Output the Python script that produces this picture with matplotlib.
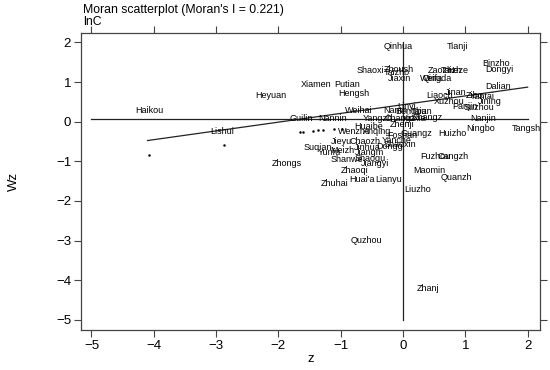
import matplotlib
matplotlib.use("Agg")
import matplotlib.pyplot as plt

plt.rcParams['font.family'] = ['Liberation Sans', 'DejaVu Sans']

# city labels with (z, Wz)
cities = ["Qinhua", "Tianji", "Binzho", "Dongyi", "Shaoxi", "Zhoush", "Taizho",
          "Zaozh", "Taizh", "Heze", "Jiaxin", "Weifa", "Qingda", "Xiamen", "Putian",
          "Heyuan", "Hengsh", "Haikou", "Dalian", "Liaoch", "Jinan", "Zibo", "Yantai",
          "Xuzhou", "Jining", "Panjin", "Suzhou", "Guilin", "Nannin", "Weihai",
          "Nantn", "Linyi", "Bengbu", "Taian", "Yangzh", "Changz", "Xinxia",
          "Zhangz", "Zhenji", "Nanjin", "Ningbo", "Tangsh", "Huizho", "Lishui",
          "Guangz", "Foshan", "Yanche", "Huaibe", "Wenzho", "Anqing", "Jieyu",
          "Chaozh", "Jinhua", "Dongg", "Shaoxin", "Suqian", "Meizh", "Yunfu",
          "Jiangm", "Fuzhou", "Cangzh", "Zhongs", "Shanwe", "Shaogu", "Jiangyi",
          "Zhaoqi", "Maomin", "Quanzh", "Zhuhai", "Huai'a", "Lianyu", "Liuzho",
          "Quzhou", "Zhanj"]
z_vals = [-0.08, 0.87, 1.50, 1.55, -0.52, -0.06, -0.10,
          0.60, 0.78, 0.88, -0.05, 0.45, 0.55, -1.40, -0.89,
          -2.12, -0.79, -4.07, 1.53, 0.58, 0.84, 1.15, 1.27,
          0.74, 1.40, 1.00, 1.22, -1.64, -1.13, -0.71,
          -0.13, 0.05, 0.12, 0.30, -0.40, -0.05, 0.18,
          0.40, -0.02, 1.29, 1.24, 1.98, 0.79, -2.90,
          0.21, -0.02, -0.10, -0.55, -0.78, -0.42, -0.98,
          -0.61, -0.58, -0.21, -0.05, -1.37, -0.98, -1.18,
          -0.53, 0.52, 0.80, -1.87, -0.90, -0.52, -0.45,
          -0.77, 0.43, 0.85, -1.09, -0.66, -0.23, 0.24,
          -0.58, 0.40]
wz_vals = [1.89, 1.89, 1.46, 1.33, 1.30, 1.33, 1.23,
           1.30, 1.30, 1.30, 1.10, 1.10, 1.10, 0.95, 0.95,
           0.67, 0.70, 0.29, 0.90, 0.67, 0.73, 0.67, 0.64,
           0.50, 0.50, 0.39, 0.37, 0.09, 0.09, 0.27,
           0.27, 0.38, 0.25, 0.26, 0.07, 0.07, 0.08,
           0.10, -0.08, 0.09, -0.16, -0.18, -0.29, -0.26,
           -0.29, -0.36, -0.47, -0.13, -0.24, -0.25, -0.49,
           -0.49, -0.64, -0.62, -0.58, -0.64, -0.72, -0.79,
           -0.77, -0.87, -0.89, -1.05, -0.95, -0.92, -1.06,
           -1.22, -1.22, -1.40, -1.55, -1.47, -1.47, -1.72,
           -3.01, -4.20]

# unlabeled small dots
dot_z = [-4.07, -2.87, -1.66, -1.61, -1.45, -1.37, -1.29, -1.10, -0.98]
dot_wz = [-0.84, -0.59, -0.26, -0.26, -0.23, -0.21, -0.21, -0.18, -0.18]

moran_i = 0.221
intercept = 0.43
fit_range = [-4.1, 2.0]
hline_y = 0.08
ref_range = [-5, 2]

fig = plt.figure(figsize=(5.5, 3.7), dpi=100)
ax = fig.add_axes([0.147, 0.108, 0.835, 0.804])

lc = '#222222'
ax.plot(ref_range, [hline_y, hline_y], color=lc, lw=0.9)
ax.plot([0, 0], ref_range[::-1], color=lc, lw=0.9)
ax.plot(fit_range, [intercept + moran_i * x for x in fit_range], color=lc, lw=0.9)

ax.scatter(dot_z, dot_wz, s=0.6, color='black')
for name, x, y in zip(cities, z_vals, wz_vals):
    ax.text(x, y, name, fontsize=6.5, ha='center', va='center', color='black')

ax.set_xlim(-5.17, 2.2)
ax.set_ylim(-5.26, 2.25)
ax.set_xticks([-5, -4, -3, -2, -1, 0, 1, 2])
ax.set_yticks([2, 1, 0, -1, -2, -3, -4, -5])
ax.set_xticklabels(['\u22125', '\u22124', '\u22123', '\u22122', '\u22121', '0', '1', '2'])
ax.set_yticklabels(['2', '1', '0', '\u22121', '\u22122', '\u22123', '\u22124', '\u22125'])
ax.tick_params(direction='out', length=5, width=0.8, color='#444444', labelsize=9.5,
               top=True, right=True, labeltop=False, labelright=False, pad=2)
for sp in ax.spines.values():
    sp.set_color('#444444')
    sp.set_linewidth(0.9)

ax.set_xlabel('z', fontsize=9.5, labelpad=1)
ax.set_ylabel('Wz', fontsize=9.5, labelpad=26)

fig.text(83 / 550, 1 - 10 / 370, "Moran scatterplot (Moran's I = 0.221)", fontsize=8.8,
         ha='left', va='center')
fig.text(83 / 550, 1 - 22 / 370, "lnC", fontsize=8.8, ha='left', va='center')

fig.savefig('out.png', dpi=100)
